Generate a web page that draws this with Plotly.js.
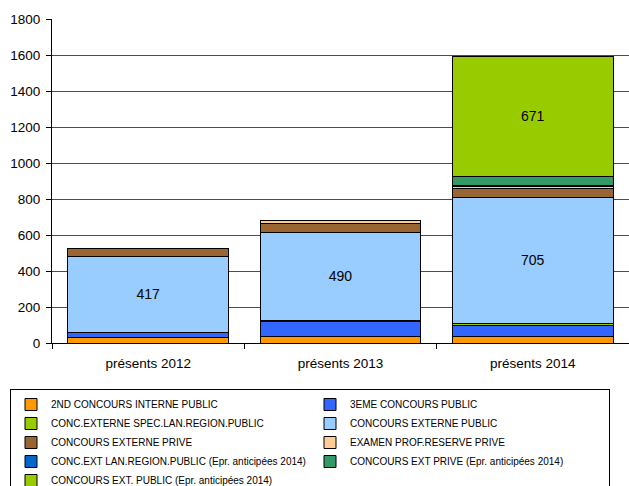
<!DOCTYPE html>
<html>
<head>
<meta charset="utf-8">
<script src="https://cdn.plot.ly/plotly-3.0.1.min.js"></script>
<style>
html,body{margin:0;padding:0;background:#fff;overflow:hidden;}
#chart{width:629px;height:486px;}
</style>
</head>
<body>
<div id="chart"></div>
<script>
const categories = ['présents 2012', 'présents 2013', 'présents 2014'];

const seriesNames = [
  '2ND CONCOURS INTERNE PUBLIC',
  '3EME CONCOURS PUBLIC',
  'CONC.EXTERNE SPEC.LAN.REGION.PUBLIC',
  'CONCOURS EXTERNE PUBLIC',
  'CONCOURS EXTERNE PRIVE',
  'EXAMEN PROF.RESERVE PRIVE',
  'CONC.EXT LAN.REGION.PUBLIC (Epr. anticipées 2014)',
  'CONCOURS EXT PRIVE (Epr. anticipées 2014)',
  'CONCOURS EXT. PUBLIC (Epr. anticipées 2014)'
];

const secondConcoursInternePublic = [28, 34, 36];
const troisiemeConcoursPublic = [33, 83, 60];
const concExterneSpecLanRegionPublic = [0, 8, 10];
const concoursExternePublic = [417, 490, 705];
const concoursExternePrive = [47, 48, 50];
const examenProfReservePrive = [0, 20, 7];
const concExtLanRegionPublicEpr = [0, 0, 7];
const concoursExtPriveEpr = [0, 0, 48];
const concoursExtPublicEpr = [0, 0, 671];

const seriesValues = [
  secondConcoursInternePublic,
  troisiemeConcoursPublic,
  concExterneSpecLanRegionPublic,
  concoursExternePublic,
  concoursExternePrive,
  examenProfReservePrive,
  concExtLanRegionPublicEpr,
  concoursExtPriveEpr,
  concoursExtPublicEpr
];

const colors = ['#ff9900', '#3366ff', '#99cc00', '#99ccff', '#996633', '#ffcc99', '#0066cc', '#339966', '#99cc00'];
const labelled = [false, false, false, true, false, false, false, false, true];

const traces = seriesNames.map((name, i) => ({
  type: 'bar',
  name: name,
  x: categories,
  y: seriesValues[i],
  marker: {color: colors[i], line: {color: '#000000', width: 1}},
  text: labelled[i] ? seriesValues[i].map(v => v > 0 ? String(v) : '') : seriesValues[i].map(() => ''),
  textposition: labelled[i] ? 'inside' : 'none',
  insidetextanchor: 'middle',
  textfont: {family: 'Liberation Sans, Arial, sans-serif', size: 14, color: '#000000'},
  constraintext: 'none',
  hoverinfo: 'x+y+name'
}));

// plot area: x 52..629 (577 px), y 19..343 (324 px)
const layout = {
  width: 629,
  height: 486,
  barmode: 'stack',
  bargap: 0.165,
  paper_bgcolor: '#ffffff',
  plot_bgcolor: '#ffffff',
  margin: {l: 52, r: 0, t: 19, b: 143, autoexpand: false},
  font: {family: 'Liberation Sans, Arial, sans-serif', size: 13, color: '#000000'},
  showlegend: true,
  xaxis: {
    type: 'category',
    range: [-0.5, 2.5],
    showline: true,
    linecolor: '#000000',
    linewidth: 1,
    ticks: 'outside',
    tickson: 'boundaries',
    ticklen: 5,
    tickcolor: '#000000',
    tickfont: {size: 13.5},
    ticklabelstandoff: 8,
    showgrid: false,
    fixedrange: true
  },
  yaxis: {
    range: [0, 1800],
    dtick: 200,
    tick0: 0,
    showline: true,
    linecolor: '#000000',
    linewidth: 1,
    ticks: 'outside',
    ticklen: 5,
    tickcolor: '#000000',
    tickfont: {size: 13.5},
    ticklabelstandoff: 3,
    showgrid: true,
    gridcolor: '#4d4d4d',
    gridwidth: 1,
    zeroline: false,
    fixedrange: true
  },
  legend: {
    orientation: 'h',
    traceorder: 'normal',
    xref: 'paper',
    yref: 'paper',
    x: (10 - 52) / 577,
    xanchor: 'left',
    y: -(389 - 343) / 324,
    yanchor: 'top',
    entrywidth: 254,
    entrywidthmode: 'pixels',
    itemwidth: 30,
    font: {family: 'Liberation Sans, Arial, sans-serif', size: 10, color: '#000000'},
    bgcolor: '#ffffff',
    bordercolor: '#000000',
    borderwidth: 1,
    tracegroupgap: 0
  }
};

Plotly.newPlot('chart', traces, layout, {displayModeBar: false, staticPlot: true});
</script>
</body>
</html>
